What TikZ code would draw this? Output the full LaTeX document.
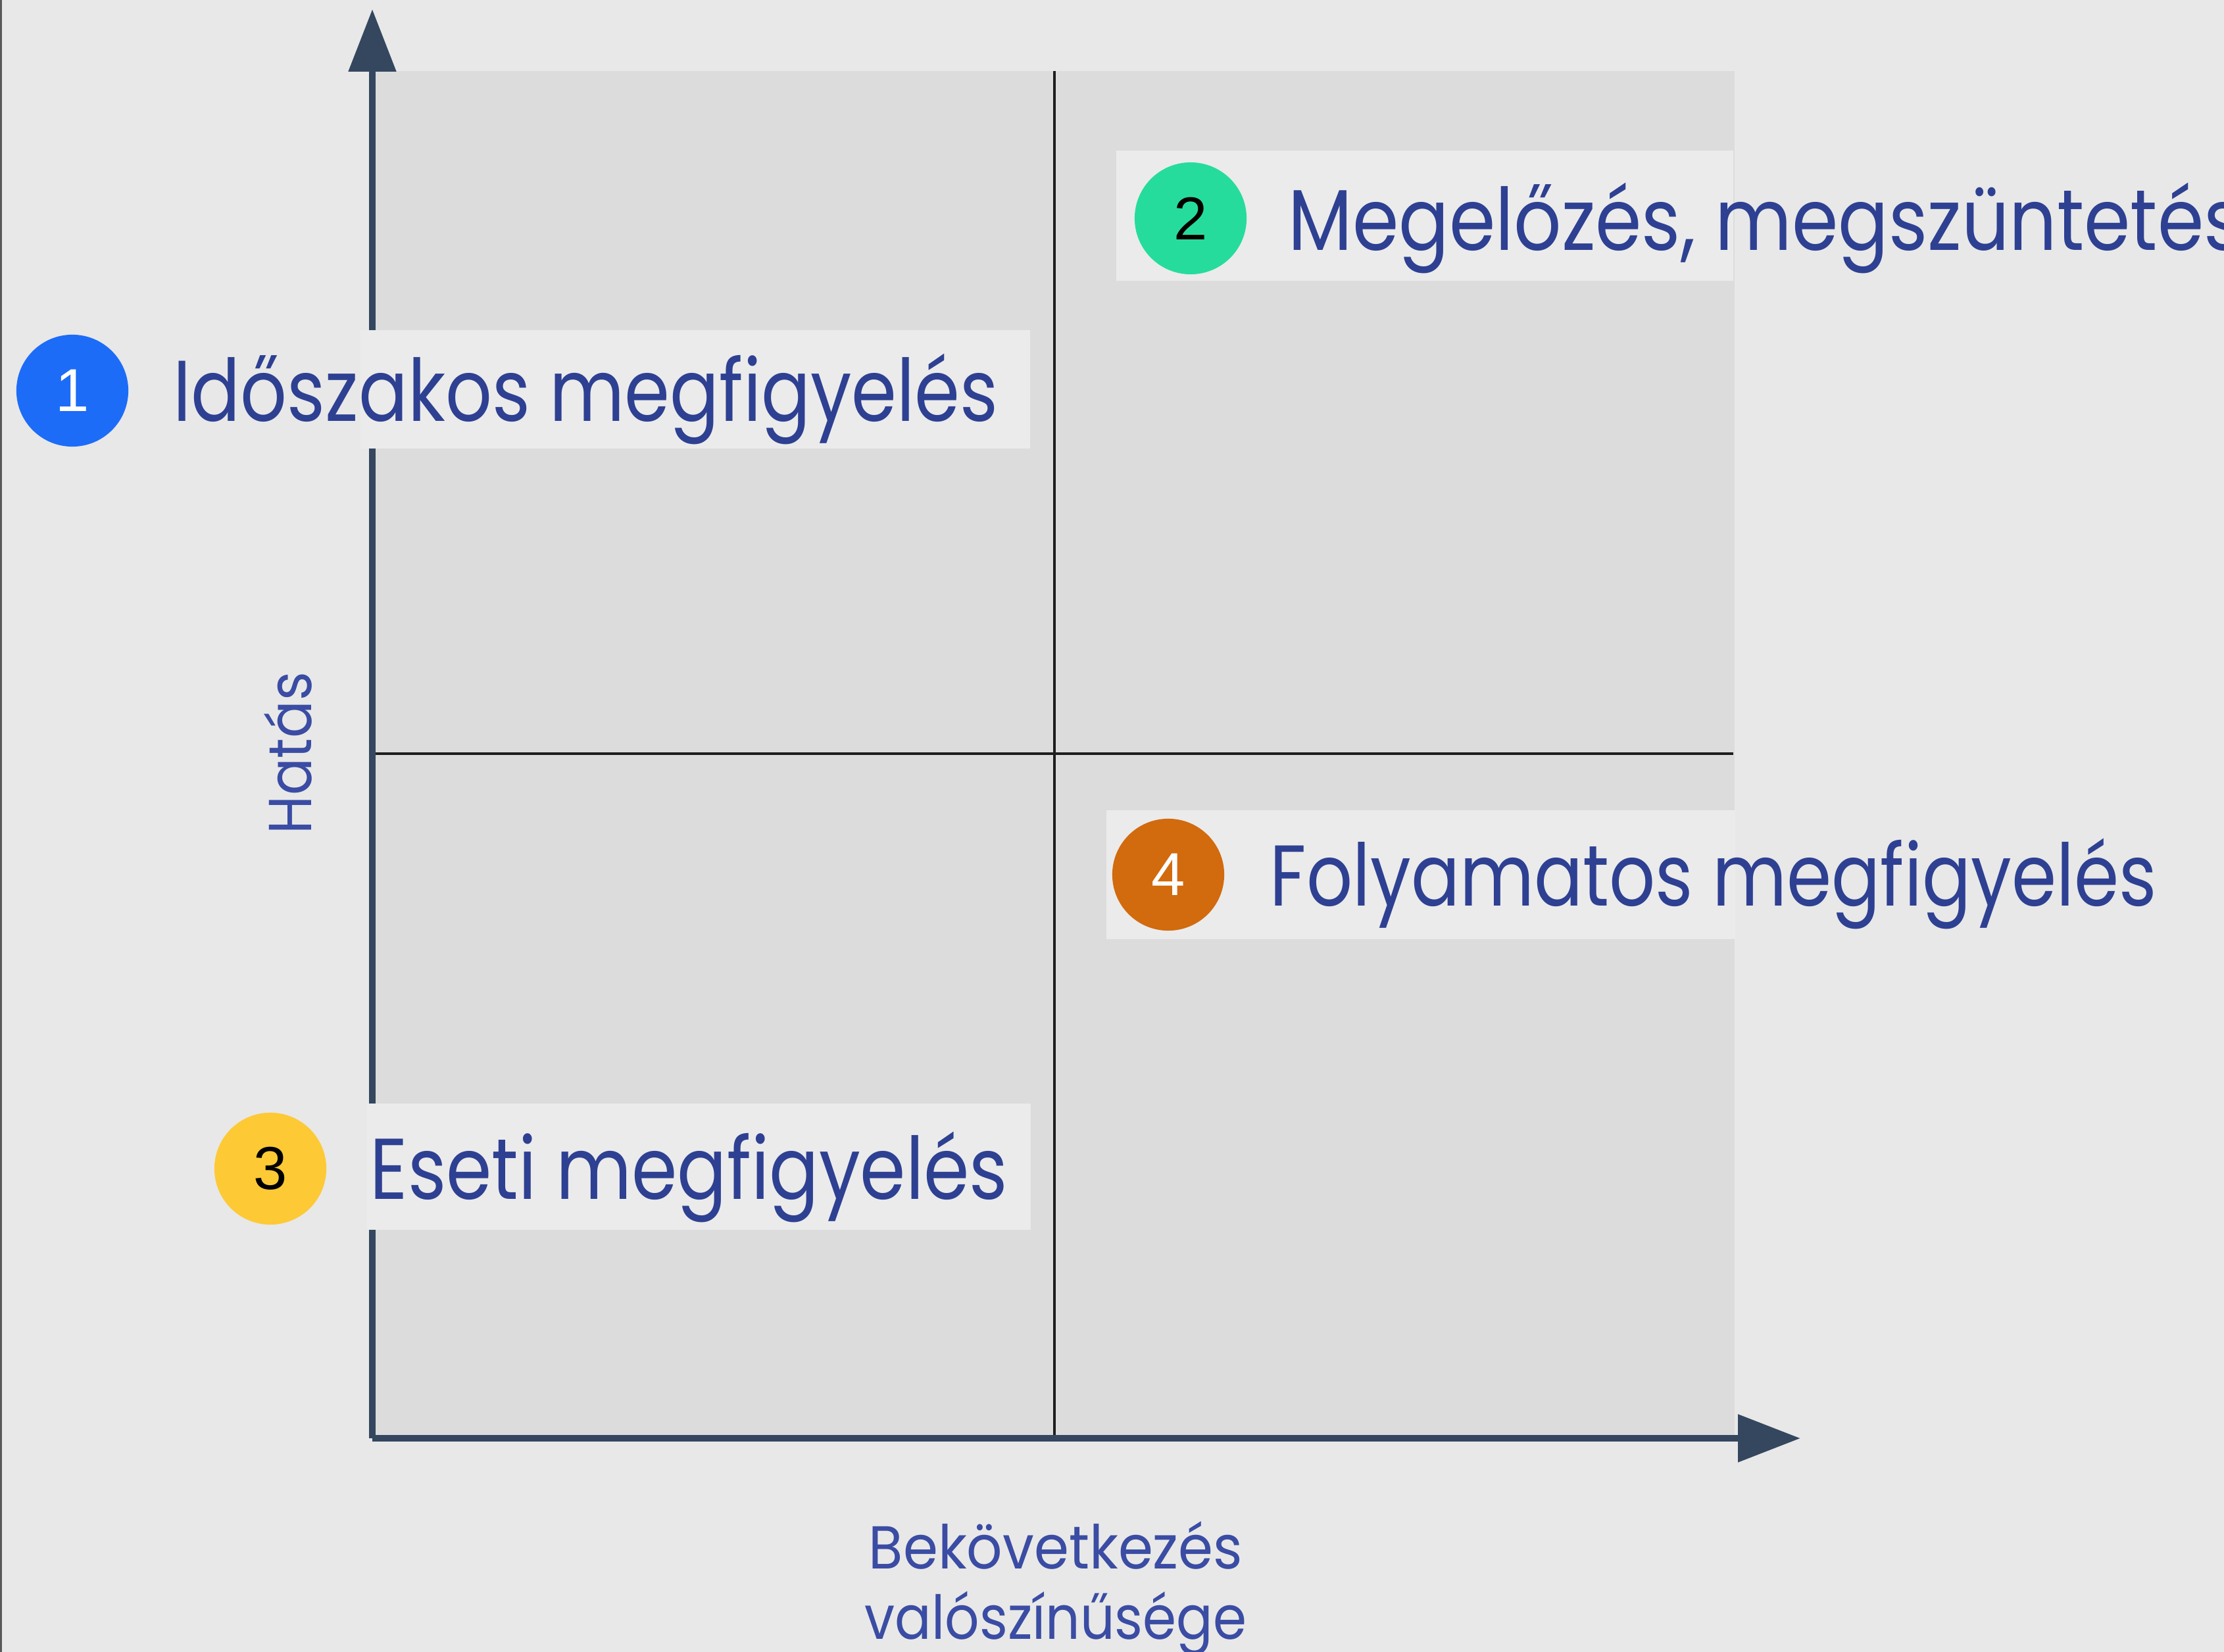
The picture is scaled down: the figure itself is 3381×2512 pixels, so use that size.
\documentclass[tikz,border=0pt]{standalone}
\usepackage{fontspec}
\usepackage{graphicx}
\setmainfont{Poppins}
\newfontfamily\numfont{Liberation Sans}
\usetikzlibrary{arrows.meta}
\definecolor{bgc}{HTML}{E8E8E8}
\definecolor{panelc}{HTML}{DCDCDC}
\definecolor{boxc}{HTML}{EBEBEB}
\definecolor{axisc}{HTML}{34475F}
\definecolor{midc}{HTML}{1E1E1E}
\definecolor{txtc}{HTML}{2E4092}
\definecolor{axtxtc}{HTML}{3A4CA3}
\definecolor{cone}{HTML}{1C6CF7}
\definecolor{ctwo}{HTML}{26DC9C}
\definecolor{cthree}{HTML}{FDC935}
\definecolor{cfour}{HTML}{D26A0E}
\newcommand\fitw[2]{\sbox0{#2}\pgfmathsetmacro\fitsx{#1/\wd0}\scalebox{\fitsx}[1]{\usebox0}}
\newcommand\labfont{\fontsize{37.3}{40}\selectfont}
\newcommand\axfont{\fontsize{26.2}{30}\selectfont}
\tikzset{
  labbox/.style={fill=boxc, draw=none},
  numcirc/.style={circle, minimum size=48.4pt, inner sep=0pt, font=\numfont\fontsize{26.2}{28}\selectfont},
  labtext/.style={anchor=base west, inner sep=0pt, text=txtc, font=\labfont},
  axtext/.style={anchor=base, inner sep=0pt, text=axtxtc, font=\axfont},
  axisline/.style={draw=axisc, line width=3.1pt, -{Triangle[length=27pt, width=20pt]}},
  midline/.style={draw=midc, line width=1.4pt}
}
\begin{document}
\begin{tikzpicture}[x=0.01cm, y=-0.01cm]
\useasboundingbox (0,0) rectangle (3381,2512);
\clip (0,0) rectangle (3381,2512);
\fill[bgc] (0,0) rectangle (3381,2512);
\fill[gray!70!black] (0,0) rectangle (3,2512);
% panel
\fill[panelc] (566,108) rectangle (2637,2187);
% coordinates
\coordinate (O) at (566,2187);
\coordinate (ytip) at (566,14);
\coordinate (xtip) at (2737,2187);
\coordinate (vtop) at (1603,108);
\coordinate (vbot) at (1603,2187);
\coordinate (hl) at (566,1146);
\coordinate (hr) at (2635,1146);
% mid lines
\draw[midline] (vtop) -- (vbot);
\draw[midline] (hl) -- (hr);
% axes
\draw[axisline] (O) -- (ytip);
\draw[axisline] (O) -- (xtip);
% label boxes
\fill[labbox] (548,502) rectangle (1566,682);
\fill[labbox] (1697,229) rectangle (2635,427);
\fill[labbox] (558,1678) rectangle (1567,1870);
\fill[labbox] (1682,1232) rectangle (2638,1428);
% circles
\node[numcirc, fill=cone, text=white] (c1) at (110,594) {1};
\node[numcirc, fill=ctwo, text=black] (c2) at (1810,332) {2};
\node[numcirc, fill=cthree, text=black] (c3) at (411,1777) {3};
\node[numcirc, fill=cfour, text=white] (c4) at (1776,1330) {4};
% labels
\node[labtext] (t1) at (263,640) {\fitw{356.5pt}{Időszakos megfigyelés}};
\node[labtext] (t2) at (1958,380) {\fitw{412.6pt}{Megelőzés, megszüntetés}};
\node[labtext] (t3) at (562,1823) {\fitw{275.7pt}{Eseti megfigyelés}};
\node[labtext] (t4) at (1930,1377) {\fitw{383.3pt}{Folyamatos megfigyelés}};
% axis labels
\node[axtext, rotate=90] (ylab) at (473,1145) {\fitw{70pt}{Hatás}};
\node[axtext] (xlab1) at (1605,2385) {\fitw{161.6pt}{Bekövetkezés}};
\node[axtext] (xlab2) at (1605,2492) {\fitw{165pt}{valószínűsége}};
\end{tikzpicture}
\end{document}
